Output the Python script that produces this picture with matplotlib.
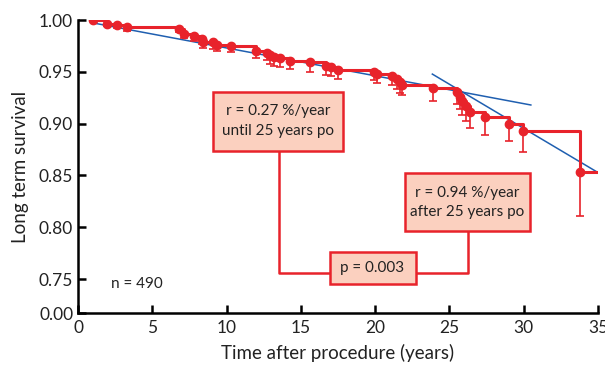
import matplotlib.pyplot as plt
from matplotlib.patches import Rectangle

plt.rcParams['font.family'] = ['Lato', 'DejaVu Sans']

# Kaplan-Meier estimates
times = [1.03, 1.98, 2.6, 3.28, 6.77, 7.15, 7.78, 8.34, 8.43, 9.08, 9.35, 10.3,
         12.0, 12.72, 12.95, 13.17, 13.62, 14.3, 15.64, 16.66, 17.06, 17.5,
         19.9, 20.1, 21.15, 21.5, 21.7, 21.8, 23.9, 25.5, 25.7, 25.87, 26.1,
         26.4, 27.4, 29.0, 29.96, 33.8]
survival = [1.0, 0.9965, 0.995, 0.9936, 0.991, 0.9865, 0.9846, 0.982, 0.979,
            0.9785, 0.976, 0.975, 0.970, 0.9686, 0.966, 0.964, 0.963, 0.9605,
            0.959, 0.956, 0.9545, 0.952, 0.950, 0.948, 0.946, 0.943, 0.940,
            0.9375, 0.934, 0.931, 0.926, 0.9215, 0.917, 0.911, 0.906, 0.900,
            0.8926, 0.853]
lower_err = [0.0, 0.002, 0.003, 0.004, 0.003, 0.004, 0.005, 0.005, 0.006,
             0.006, 0.006, 0.006, 0.007, 0.007, 0.008, 0.008, 0.008, 0.008,
             0.009, 0.009, 0.009, 0.009, 0.008, 0.009, 0.009, 0.010, 0.010,
             0.010, 0.012, 0.012, 0.012, 0.013, 0.014, 0.015, 0.017, 0.017,
             0.020, 0.042]
t_end = 35

# fitted hazard lines
fit1_t = [1.15, 30.48]
fit1_s = [0.9968, 0.918]
fit2_t = [23.85, 34.86]
fit2_s = [0.9478, 0.854]

xticks = [0, 5, 10, 15, 20, 25, 30, 35]
ytick_vals = [0.7173, 0.75, 0.80, 0.85, 0.90, 0.95, 1.00]
ytick_labels = ['0.00', '0.75', '0.80', '0.85', '0.90', '0.95', '1.00']

red = '#e8232b'
fill = '#fbd0bf'
blue = '#1f5fb0'
txt = '#222222'

fig = plt.figure(figsize=(6.05, 3.71), dpi=100)
ax = fig.add_axes([78 / 605, 58 / 371, 520 / 605, 293 / 371])

ax.plot(fit1_t, fit1_s, color=blue, lw=1.1, zorder=2)
ax.plot(fit2_t, fit2_s, color=blue, lw=1.1, zorder=2)

ax.step(times + [t_end], survival + [survival[-1]], where='post',
        color=red, lw=2.2, zorder=3)
ax.errorbar(times, survival, yerr=[lower_err, [0] * len(lower_err)],
            fmt='o', color=red, ms=6, elinewidth=1.2, capsize=3,
            capthick=1.2, zorder=4)


def box(x0, x1, y0, y1, text):
    ax.add_patch(Rectangle((x0, y0), x1 - x0, y1 - y0, facecolor=fill,
                           edgecolor=red, lw=1.8, zorder=5, clip_on=False))
    ax.text((x0 + x1) / 2, (y0 + y1) / 2, text, ha='center', va='center',
            fontsize=11, linespacing=1.5, zorder=6, color=txt)


box(9.10, 17.87, 0.874, 0.9308, 'r = 0.27 %/year\nuntil 25 years po')
box(21.98, 30.41, 0.796, 0.852, 'r = 0.94 %/year\nafter 25 years po')
box(16.93, 22.72, 0.745, 0.776, 'p = 0.003')

ax.plot([13.55, 13.55, 16.93], [0.874, 0.7558, 0.7558], color=red, lw=1.8, zorder=4)
ax.plot([22.72, 26.23, 26.23], [0.7558, 0.7558, 0.796], color=red, lw=1.8, zorder=4)

ax.text(2.2, 0.745, 'n = 490', ha='left', va='center', fontsize=11, color=txt)

ax.set_xlim(0, 35)
ax.set_ylim(0.7173, 1.0)
ax.set_xticks(xticks)
ax.set_yticks(ytick_vals)
ax.set_yticklabels(ytick_labels)
ax.tick_params(direction='in', length=6, width=1.8, labelsize=12.5,
               labelcolor=txt)
ax.tick_params(axis='x', pad=5)
for s in ['top', 'right']:
    ax.spines[s].set_visible(False)
for s in ['left', 'bottom']:
    ax.spines[s].set_linewidth(1.8)
ax.set_xlabel('Time after procedure (years)', fontsize=13.5, color=txt,
              labelpad=6)
ax.set_ylabel('Long term survival', fontsize=13.5, color=txt, labelpad=7)

fig.savefig('out.png', dpi=100)
